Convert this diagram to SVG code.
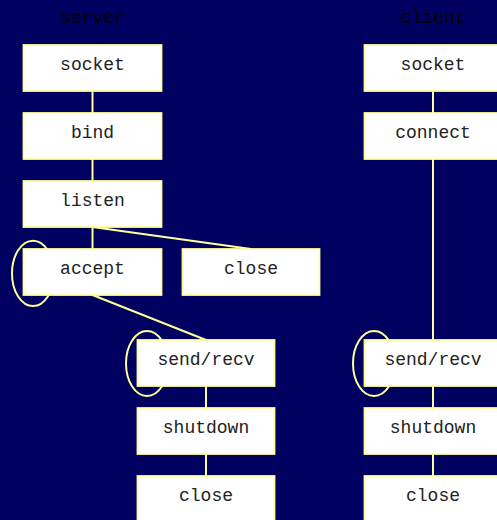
<svg xmlns="http://www.w3.org/2000/svg" width="497" height="520" viewBox="0 0 497 520">
<style>
.box{fill:#ffffff;stroke:#ffff99;stroke-width:1.8}
.t{font-family:"Liberation Mono","Courier New",monospace;font-size:18px;fill:#222222;text-anchor:middle}
.h{font-family:"Liberation Mono","Courier New",monospace;font-size:18px;fill:#000000;text-anchor:middle}
.e{fill:none;stroke:#ffff99;stroke-width:2}
</style>
<rect x="0" y="0" width="497" height="520" fill="#000060"/>
<text class="h" x="92.5" y="23">server</text>
<text class="h" x="433" y="23">client</text>
<g id="connectors">
<line class="e" x1="92.5" y1="91" x2="92.5" y2="113"/>
<line class="e" x1="92.5" y1="159" x2="92.5" y2="181"/>
<line class="e" x1="92.5" y1="227" x2="92.5" y2="249"/>
<line class="e" x1="92.5" y1="227" x2="251" y2="249"/>
<line class="e" x1="92.5" y1="295" x2="206" y2="340"/>
<line class="e" x1="206" y1="386" x2="206" y2="408"/>
<line class="e" x1="206" y1="454" x2="206" y2="476"/>
<line class="e" x1="433" y1="91" x2="433" y2="113"/>
<line class="e" x1="433" y1="159" x2="433" y2="340"/>
<line class="e" x1="433" y1="386" x2="433" y2="408"/>
<line class="e" x1="433" y1="454" x2="433" y2="476"/>
<ellipse class="e" cx="33" cy="273.4" rx="21" ry="32.7"/>
<ellipse class="e" cx="147" cy="363.5" rx="21" ry="32.5"/>
<ellipse class="e" cx="374" cy="363.5" rx="21" ry="32.5"/>
</g>
<g id="s_socket"><rect class="box" x="23.5" y="45" width="138" height="46"/><text class="t" x="92.5" y="70">socket</text></g>
<g id="s_bind"><rect class="box" x="23.5" y="113" width="138" height="46"/><text class="t" x="92.5" y="138">bind</text></g>
<g id="s_listen"><rect class="box" x="23.5" y="181" width="138" height="46"/><text class="t" x="92.5" y="206">listen</text></g>
<g id="s_accept"><rect class="box" x="23.5" y="249" width="138" height="46"/><text class="t" x="92.5" y="274">accept</text></g>
<g id="s_close1"><rect class="box" x="182.5" y="249" width="137" height="46"/><text class="t" x="251" y="274">close</text></g>
<g id="s_sendrecv"><rect class="box" x="137.5" y="340" width="137" height="46"/><text class="t" x="206" y="365">send/recv</text></g>
<g id="s_shutdown"><rect class="box" x="137.5" y="408" width="137" height="46"/><text class="t" x="206" y="433">shutdown</text></g>
<g id="s_close2"><rect class="box" x="137.5" y="476" width="137" height="46"/><text class="t" x="206" y="501">close</text></g>
<g id="c_socket"><rect class="box" x="364.5" y="45" width="138" height="46"/><text class="t" x="433" y="70">socket</text></g>
<g id="c_connect"><rect class="box" x="364.5" y="113" width="138" height="46"/><text class="t" x="433" y="138">connect</text></g>
<g id="c_sendrecv"><rect class="box" x="364.5" y="340" width="138" height="46"/><text class="t" x="433" y="365">send/recv</text></g>
<g id="c_shutdown"><rect class="box" x="364.5" y="408" width="138" height="46"/><text class="t" x="433" y="433">shutdown</text></g>
<g id="c_close"><rect class="box" x="364.5" y="476" width="138" height="46"/><text class="t" x="433" y="501">close</text></g>
</svg>
